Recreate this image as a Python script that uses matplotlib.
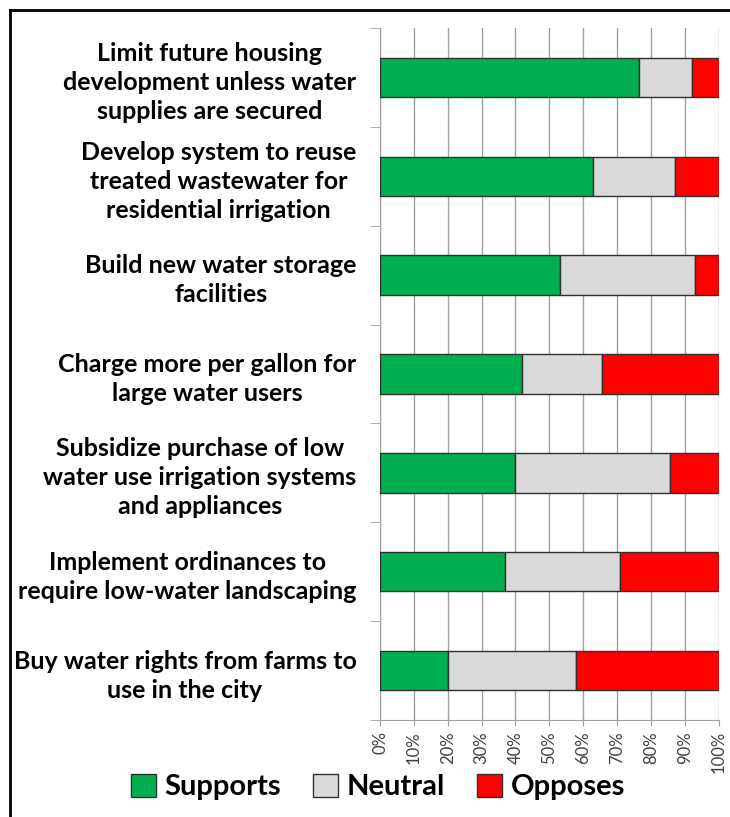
import matplotlib.pyplot as plt
import numpy as np
from matplotlib.patches import Patch

plt.rcParams['font.family'] = ['Lato', 'DejaVu Sans']

labels = ["Limit future housing\ndevelopment unless water\nsupplies are secured",
          "Develop system to reuse\ntreated wastewater for\nresidential irrigation",
          "Build new water storage\nfacilities",
          "Charge more per gallon for\nlarge water users",
          "Subsidize purchase of low\nwater use irrigation systems\nand appliances",
          "Implement ordinances to\nrequire low-water landscaping",
          "Buy water rights from farms to\nuse in the city"]
supports = [76.5, 63, 53, 42, 40, 37, 20]
neutral = [15.5, 24, 40, 23.5, 45.5, 34, 38]
opposes = [8, 13, 7, 34.5, 14.5, 29, 42]

fig = plt.figure(figsize=(7.3, 8.17), dpi=100)
ax = fig.add_axes([380/730, 1-720/817, 338.7/730, 692/817])

y = np.arange(len(labels))
s = np.array(supports)
n = np.array(neutral)
o = np.array(opposes)
h = 0.4
ax.barh(y, s, height=h, color='#00B050', edgecolor='#303030', linewidth=1, zorder=3)
ax.barh(y, n, left=s, height=h, color='#D9D9D9', edgecolor='#303030', linewidth=1, zorder=3)
ax.barh(y, o, left=s+n, height=h, color='#FF0000', edgecolor='#303030', linewidth=1, zorder=3)

ax.set_xlim(0, 100)
ax.set_ylim(len(labels)-0.5, -0.5)
ax.set_xticks(np.arange(0, 101, 10))
ax.set_xticklabels([f"{v}%" for v in range(0, 101, 10)], rotation=90, fontsize=12, color='#404040')
ax.tick_params(axis='x', length=4, color='#A0A0A0', pad=4)
ax.grid(axis='x', color='#A0A0A0', linewidth=1, zorder=0)

ax.set_yticks(y)
ax.set_yticklabels(labels, fontsize=18, fontweight='bold', ha='right', multialignment='center', linespacing=1.32)
ax.tick_params(axis='y', which='major', length=0, pad=17)
ax.set_yticks(np.arange(-0.5, len(labels), 1), minor=True)
ax.tick_params(axis='y', which='minor', length=7, color='#A0A0A0')

for sp in ['top', 'right']:
    ax.spines[sp].set_visible(False)
for sp in ['left', 'bottom']:
    ax.spines[sp].set_color('#A0A0A0')

handles = [Patch(facecolor='#00B050', edgecolor='#303030', label='Supports'),
           Patch(facecolor='#D9D9D9', edgecolor='#303030', label='Neutral'),
           Patch(facecolor='#FF0000', edgecolor='#303030', label='Opposes')]
fig.legend(handles=handles, loc='center', bbox_to_anchor=(378/730, 1-787/817), ncol=3,
           frameon=False, prop={'size': 21, 'weight': 'bold'}, handlelength=0.85, handleheight=0.85,
           handletextpad=0.3, columnspacing=1.1)

# outer border
fig.add_artist(plt.Line2D([10/730, 10/730], [0, 1-10/817], color='black', linewidth=2, transform=fig.transFigure))
fig.add_artist(plt.Line2D([10/730, 1], [1-10/817, 1-10/817], color='black', linewidth=2, transform=fig.transFigure))

fig.savefig('out.png', dpi=100)
